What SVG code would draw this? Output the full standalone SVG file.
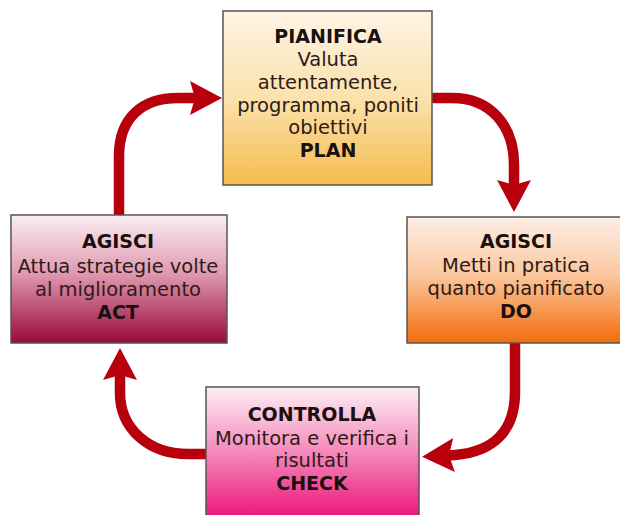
<svg xmlns="http://www.w3.org/2000/svg" width="620" height="515" viewBox="0 0 620 515">
<style>
  .box { stroke: #555; stroke-width: 1.5; }
  .t { font-family: "DejaVu Sans", "Verdana", sans-serif; font-size: 19.5px; fill: #2e1a16; text-anchor: middle; }
  .b { font-weight: bold; font-size: 19px; fill: #1a1010; }
  .arr { fill: none; stroke: #b8000c; stroke-width: 10.5; stroke-linecap: round; marker-end: url(#head); }
</style>
<defs>
  <linearGradient id="gPlan" x1="0" y1="0" x2="0" y2="1">
    <stop offset="0" stop-color="#fdf4e4"/>
    <stop offset="0.5" stop-color="#fbe2ac"/>
    <stop offset="1" stop-color="#f5bb4e"/>
  </linearGradient>
  <linearGradient id="gDo" x1="0" y1="0" x2="0" y2="1">
    <stop offset="0" stop-color="#fdeee6"/>
    <stop offset="0.45" stop-color="#fbc8a0"/>
    <stop offset="1" stop-color="#f36c0c"/>
  </linearGradient>
  <linearGradient id="gAct" x1="0" y1="0" x2="0" y2="1">
    <stop offset="0" stop-color="#fbeef2"/>
    <stop offset="0.45" stop-color="#e09ab2"/>
    <stop offset="1" stop-color="#9a0a3a"/>
  </linearGradient>
  <linearGradient id="gCheck" x1="0" y1="0" x2="0" y2="1">
    <stop offset="0" stop-color="#fdeef4"/>
    <stop offset="0.45" stop-color="#f590bf"/>
    <stop offset="1" stop-color="#ea0e74"/>
  </linearGradient>
  <marker id="head" viewBox="0 0 32 34" refX="3" refY="17" markerWidth="32" markerHeight="34" markerUnits="userSpaceOnUse" orient="auto">
    <path d="M0,0 L32,17 L0,34 L5,17 Z" fill="#b8000c"/>
  </marker>
</defs>
<rect width="620" height="515" fill="#ffffff"/>

<g id="connectors">
  <path class="arr" d="M119,214 V156 C119,118 142,98 178,98 H193"/>
  <path class="arr" d="M434,98 H452 C490,98 514,125 514,165 V183"/>
  <path class="arr" d="M515,342 V392 C515,432 492,452 455,455 L451,455.2"/>
  <path class="arr" d="M207,454 H188 C148,454 120,428 120,393 V377"/>
</g>

<g id="plan">
  <rect class="box" x="223" y="11" width="209" height="174" fill="url(#gPlan)"/>
  <text class="t b" x="328" y="43">PIANIFICA</text>
  <text class="t" x="328" y="66">Valuta</text>
  <text class="t" x="328" y="89">attentamente,</text>
  <text class="t" x="328" y="112">programma, poniti</text>
  <text class="t" x="328" y="134">obiettivi</text>
  <text class="t b" x="328" y="157">PLAN</text>
</g>

<g id="do">
  <rect class="box" x="407" y="217" width="224" height="126" fill="url(#gDo)"/>
  <text class="t b" x="516" y="248">AGISCI</text>
  <text class="t" x="516" y="272">Metti in pratica</text>
  <text class="t" x="516" y="295">quanto pianificato</text>
  <text class="t b" x="516" y="318">DO</text>
</g>

<g id="act">
  <rect class="box" x="11" y="215" width="216" height="128" fill="url(#gAct)"/>
  <text class="t b" x="118" y="248">AGISCI</text>
  <text class="t" x="118" y="273">Attua strategie volte</text>
  <text class="t" x="118" y="296">al miglioramento</text>
  <text class="t b" x="118" y="319">ACT</text>
</g>

<g id="check">
  <rect class="box" x="206" y="387" width="213" height="135" fill="url(#gCheck)"/>
  <text class="t b" x="312" y="421">CONTROLLA</text>
  <text class="t" x="312" y="445">Monitora e verifica i</text>
  <text class="t" x="312" y="467">risultati</text>
  <text class="t b" x="312" y="490">CHECK</text>
</g>
</svg>
